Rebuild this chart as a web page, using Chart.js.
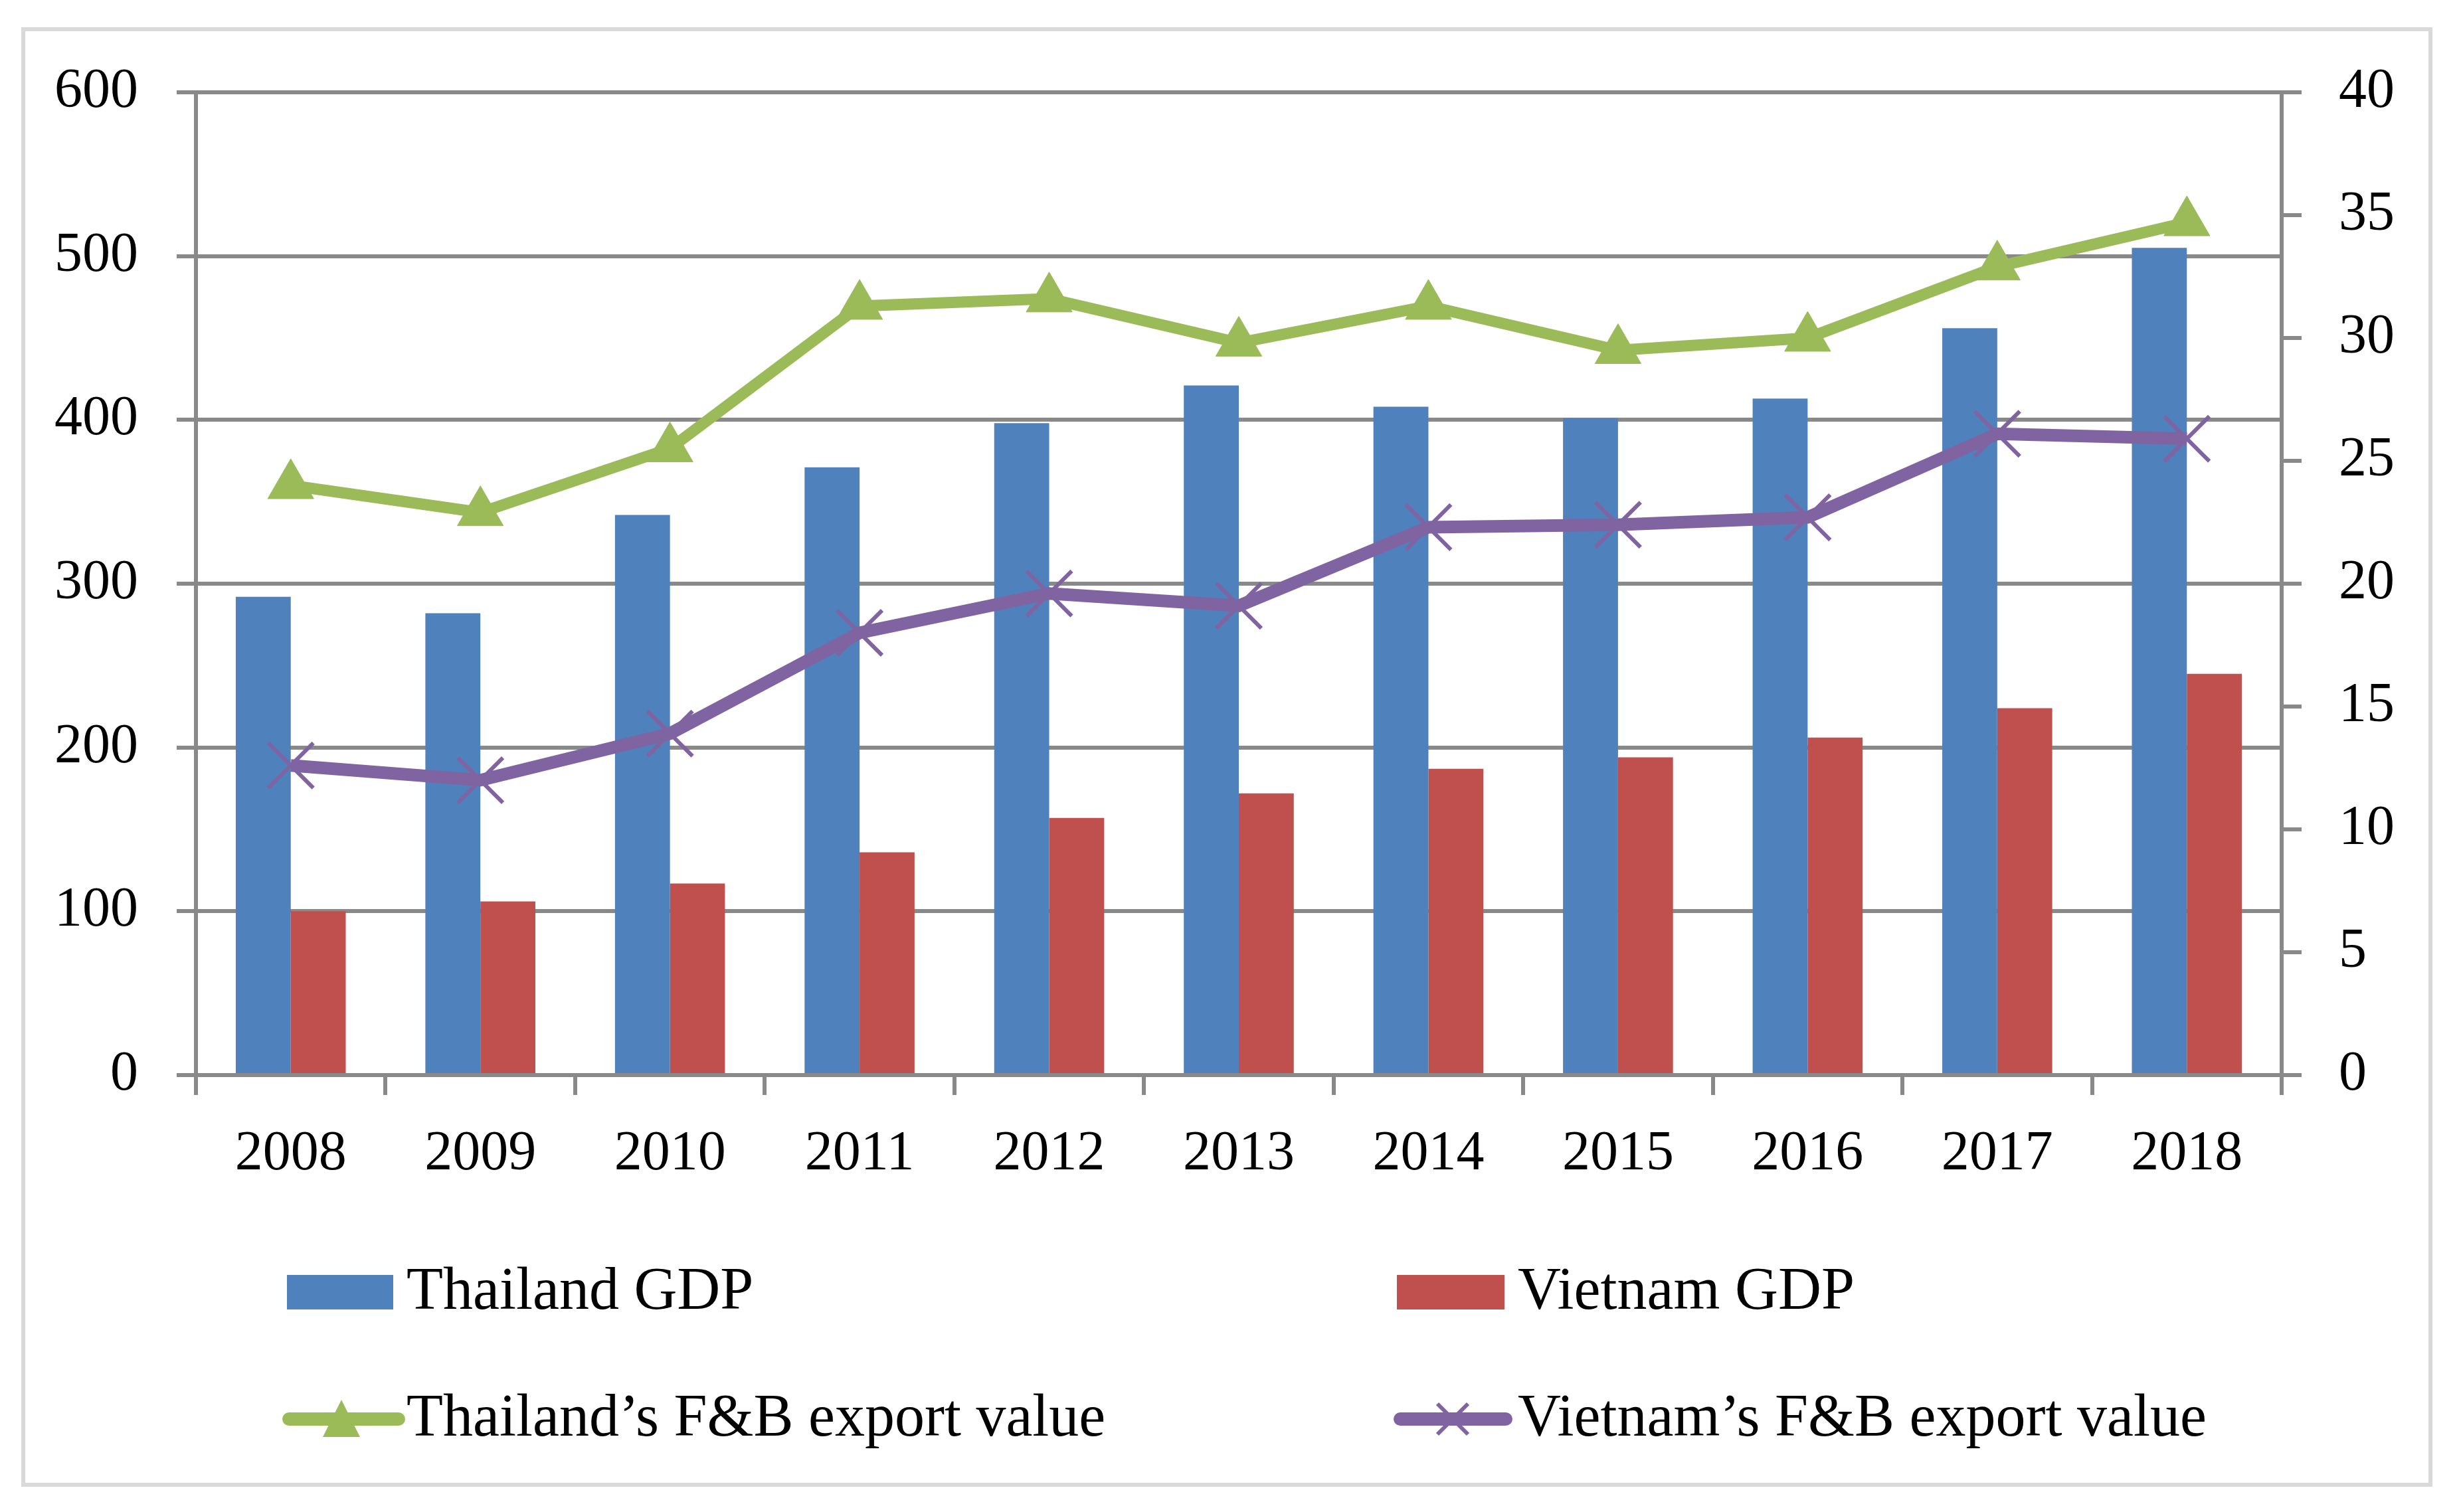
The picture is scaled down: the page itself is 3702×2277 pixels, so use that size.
<!DOCTYPE html>
<html>
<head>
<meta charset="utf-8">
<script src="https://cdn.jsdelivr.net/npm/chart.js@4.4.1/dist/chart.umd.min.js"></script>
<style>
  html, body { margin: 0; padding: 0; background: #fff; }
  #wrap { position: relative; width: 3702px; height: 2277px; overflow: hidden; }
  #frame { position: absolute; left: 32px; top: 41px; width: 3630px; height: 2198px;
           border: 6px solid #d9d9d9; box-sizing: border-box; pointer-events: none; }
  .lg { position: absolute; font-family: 'Liberation Serif', serif; font-size: 90px;
        line-height: 90px; color: #000; white-space: nowrap; }
  .box { position: absolute; height: 52px; }
  svg { position: absolute; }
</style>
</head>
<body>
<div id="wrap">
  <canvas id="chart"></canvas>
  <div id="frame"></div>

  <div class="box" style="left:432px; top:1920px; width:160px; background:#4F81BD;"></div>
  <div class="lg" style="left:612px; top:1896px;">Thailand GDP</div>

  <div class="box" style="left:2103px; top:1920px; width:162px; background:#C0504D;"></div>
  <div class="lg" style="left:2285px; top:1896px;">Vietnam GDP</div>

  <svg style="left:420px; top:2100px;" width="190" height="75">
    <line x1="15" y1="37" x2="180" y2="37" stroke="#9BBB59" stroke-width="20" stroke-linecap="round"/>
    <polygon points="94,8 66,64 122,64" fill="#9BBB59"/>
  </svg>
  <div class="lg" style="left:612px; top:2087px;">Thailand’s F&amp;B export value</div>

  <svg style="left:2090px; top:2100px;" width="190" height="75">
    <line x1="18" y1="37" x2="177" y2="37" stroke="#8064A2" stroke-width="20" stroke-linecap="round"/>
    <line x1="74" y1="14" x2="120" y2="60" stroke="#8064A2" stroke-width="6"/>
    <line x1="120" y1="14" x2="74" y2="60" stroke="#8064A2" stroke-width="6"/>
  </svg>
  <div class="lg" style="left:2285px; top:2087px;">Vietnam’s F&amp;B export value</div>
</div>

<script>
// 数据
const years = ['2008', '2009', '2010', '2011', '2012', '2013', '2014', '2015', '2016', '2017', '2018'];
const thailandGdp = [292, 282, 342, 371, 398, 421, 408, 401, 413, 456, 505];
const vietnamGdp = [100, 106, 117, 136, 157, 172, 187, 194, 206, 224, 245];
const thailandExport = [24.0, 22.9, 25.5, 31.3, 31.6, 29.8, 31.3, 29.5, 30.0, 32.9, 34.7];
const vietnamExport = [12.6, 12.0, 13.9, 18.0, 19.6, 19.1, 22.3, 22.4, 22.7, 26.1, 25.9];

const gridGray = '#898989';

Chart.defaults.font.family = "'Liberation Serif', serif";
Chart.defaults.color = '#000';

const canvas = document.getElementById('chart');
canvas.width = 3702;
canvas.height = 2277;

new Chart(canvas, {
  type: 'bar',
  data: {
    labels: years,
    datasets: [
      {
        type: 'line',
        label: 'Thailand’s F&B export value',
        data: thailandExport,
        yAxisID: 'y1',
        borderColor: '#9BBB59',
        backgroundColor: '#9BBB59',
        borderWidth: 17,
        pointStyle: 'triangle',
        pointRadius: 40,
        pointBackgroundColor: '#9BBB59',
        pointBorderColor: '#9BBB59',
        pointBorderWidth: 1,
        tension: 0,
        order: 1
      },
      {
        type: 'line',
        label: 'Vietnam’s F&B export value',
        data: vietnamExport,
        yAxisID: 'y1',
        borderColor: '#8064A2',
        backgroundColor: '#8064A2',
        borderWidth: 19,
        pointStyle: 'crossRot',
        pointRadius: 48,
        pointBorderColor: '#8064A2',
        pointBorderWidth: 6,
        tension: 0,
        order: 2
      },
      {
        label: 'Thailand GDP',
        data: thailandGdp,
        yAxisID: 'y',
        backgroundColor: '#4F81BD',
        categoryPercentage: 0.58,
        barPercentage: 1.0,
        order: 3
      },
      {
        label: 'Vietnam GDP',
        data: vietnamGdp,
        yAxisID: 'y',
        backgroundColor: '#C0504D',
        categoryPercentage: 0.58,
        barPercentage: 1.0,
        order: 3
      }
    ]
  },
  options: {
    responsive: false,
    animation: false,
    devicePixelRatio: 1,
    layout: { padding: { top: 139, left: 0, right: 0, bottom: 0 } },
    plugins: {
      legend: { display: false },
      tooltip: { enabled: false }
    },
    scales: {
      x: {
        offset: true,
        grid: {
          offset: true,
          drawOnChartArea: false,
          drawTicks: true,
          tickLength: 30,
          color: gridGray,
          lineWidth: 6
        },
        border: { display: true, color: gridGray, width: 6 },
        ticks: { font: { size: 84 }, padding: 40, maxRotation: 0, color: '#000' },
        afterFit: s => { s.height = 658; }
      },
      y: {
        position: 'left',
        min: 0,
        max: 600,
        ticks: { stepSize: 100, padding: 58, font: { size: 84 }, color: '#000' },
        grid: { color: gridGray, lineWidth: 6, tickLength: 29 },
        border: { display: true, color: gridGray, width: 6 },
        afterFit: s => { s.width = 295; }
      },
      y1: {
        position: 'right',
        min: 0,
        max: 40,
        ticks: { stepSize: 5, padding: 56, font: { size: 84 }, color: '#000' },
        grid: { drawOnChartArea: false, tickLength: 30, color: gridGray, lineWidth: 6 },
        border: { display: true, color: gridGray, width: 6 },
        afterFit: s => { s.width = 267; }
      }
    }
  }
});
</script>
</body>
</html>
